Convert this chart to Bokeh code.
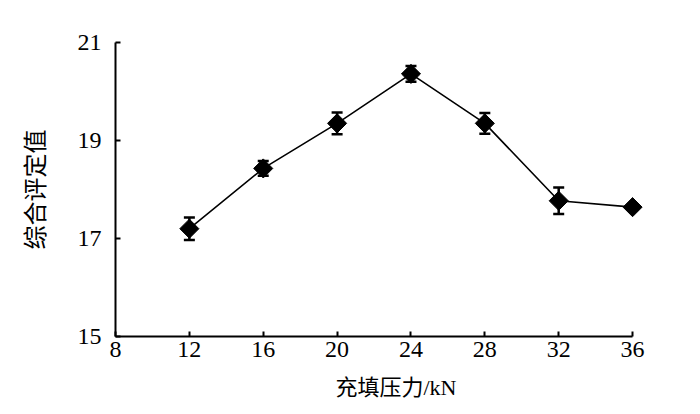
import math
from bokeh.plotting import figure
from bokeh.models import Range1d, ColumnDataSource, Whisker, TeeHead, FixedTicker, Title
from bokeh.embed import file_html
from bokeh.resources import INLINE

pressure = [12, 16, 20, 24, 28, 32, 36]
score = [17.2, 18.43, 19.35, 20.36, 19.35, 17.77, 17.64]
err = [0.23, 0.15, 0.22, 0.16, 0.21, 0.27, 0.0]
x_ticks = [8, 12, 16, 20, 24, 28, 32, 36]
y_ticks = [15, 17, 19, 21]
x_title = "充填压力/kN"
y_title = "综合评定值"

FONT = "'Liberation Serif', 'Times New Roman', 'Noto Sans CJK SC', serif"

src = ColumnDataSource(dict(
    x=pressure, y=score,
    lower=[s - e for s, e in zip(score, err)],
    upper=[s + e for s, e in zip(score, err)],
))

p = figure(width=692, height=412, output_backend="svg", toolbar_location=None,
           x_range=Range1d(8, 36.7), y_range=Range1d(15, 21),
           min_border_left=115, min_border_right=47, min_border_top=42, min_border_bottom=70)
p.outline_line_color = None
p.xgrid.visible = False
p.ygrid.visible = False
p.background_fill_color = "white"
p.border_fill_color = "white"

for ax in (p.xaxis[0], p.yaxis[0]):
    ax.axis_line_color = "black"
    ax.axis_line_width = 2
    ax.major_tick_line_color = "black"
    ax.major_tick_line_width = 2
    ax.major_tick_in = 5
    ax.major_tick_out = 0
    ax.minor_tick_line_color = None
    ax.major_label_text_font = FONT
    ax.major_label_text_font_size = "24px"
    ax.major_label_text_color = "black"

p.xaxis.ticker = FixedTicker(ticks=x_ticks)
p.xaxis.bounds = (8, 36)
p.yaxis.ticker = FixedTicker(ticks=y_ticks)
p.xaxis.major_label_standoff = 5
p.yaxis.major_label_standoff = 14

p.yaxis.axis_label = y_title
p.yaxis.axis_label_text_font = FONT
p.yaxis.axis_label_text_font_size = "24px"
p.yaxis.axis_label_text_font_style = "normal"
p.yaxis.axis_label_text_color = "black"
p.yaxis.axis_label_standoff = 26

xt = Title(text=x_title, align="left", offset=212, text_font=FONT,
           text_font_size="22px", text_font_style="normal", text_color="black",
           padding=8)
p.add_layout(xt, "below")

p.line("x", "y", source=src, line_color="black", line_width=1.6)
wh = Whisker(base="x", lower="lower", upper="upper", source=src, dimension="height",
             line_color="black", line_width=2.5,
             upper_head=TeeHead(size=11, line_color="black", line_width=2.5),
             lower_head=TeeHead(size=11, line_color="black", line_width=2.5))
p.add_layout(wh)
p.scatter("x", "y", source=src, marker="square", angle=math.pi / 4, size=13.5,
          fill_color="black", line_color="black")

open("out.html", "w").write(file_html(p, INLINE))
